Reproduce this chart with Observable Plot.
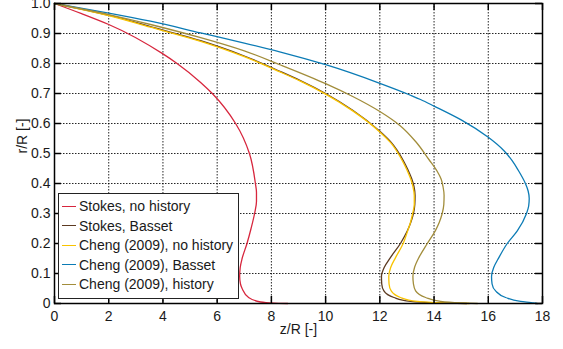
<!DOCTYPE html>
<html><head><meta charset="utf-8">
<script src="https://cdn.jsdelivr.net/npm/d3@7"></script>
<script src="https://cdn.jsdelivr.net/npm/@observablehq/plot@0.6"></script>
<style>
body{margin:0;background:#fff;}
#wrap{position:relative;width:563px;height:349px;overflow:hidden;font-family:"Liberation Sans",Arial,Helvetica,sans-serif;}
#legend{position:absolute;left:58px;top:193px;width:181px;height:106px;border:1px solid #222;background:#fff;box-sizing:border-box;padding-top:2.5px;}
.row{height:19.5px;display:flex;align-items:center;font-size:14px;color:#1a1a1a;white-space:nowrap;}
.sw{width:14px;height:0;border-top:1.4px solid;margin-left:3px;margin-right:3px;}
</style></head>
<body><div id="wrap"><div id="chart"></div><div id="legend"></div></div>
<script>
const seriesNames = ["Stokes, no history","Stokes, Basset","Cheng (2009), no history","Cheng (2009), Basset","Cheng (2009), history"];
const seriesColors = ["#d7263d","#5c3a21","#f8c300","#0b7bb5","#a28d3b"];
const xTicks = [0,2,4,6,8,10,12,14,16,18];
const yTicks = [0,0.1,0.2,0.3,0.4,0.5,0.6,0.7,0.8,0.9,1.0];

// Stokes, no history
const stokesNoHistZ = [0,1,2,4,4.52,5.39,5.82,6.68,7.19,7.41,7.45,7.45,7.38,7.25,7.1,6.92,6.85,6.83,6.86,6.92,7.16,7.6,8.1,8.6];
const stokesNoHistR = [1,0.966,0.930,0.832,0.80,0.737,0.70,0.60,0.50,0.40,0.37,0.34,0.30,0.25,0.20,0.15,0.12,0.09,0.065,0.05,0.02,0.005,0.001,0];
// Stokes, Basset
const stokesBassetZ = [0,2,3.54,5.39,7,8.34,9.07,10,11,12,12.42,12.87,13.05,13.18,13.26,13.30,13.29,13.24,13.14,13.02,12.76,12.39,12.16,12.06,12.07,12.15,12.52,13.13,14.1,15.2];
const stokesBassetR = [1,0.961,0.923,0.876,0.825,0.773,0.743,0.700,0.644,0.574,0.537,0.476,0.443,0.415,0.39,0.36,0.33,0.30,0.27,0.243,0.20,0.153,0.12,0.09,0.065,0.042,0.02,0.007,0.002,0];
// Cheng (2009), no history
const chengNoHistZ = [0,2,3.54,5.39,7,8.34,9.07,10,11,12,12.39,12.83,13.01,13.14,13.22,13.27,13.27,13.21,13.13,13.03,12.86,12.58,12.40,12.33,12.34,12.42,12.76,13.38,14.3,15.3];
const chengNoHistR = [1,0.96,0.921,0.874,0.823,0.771,0.741,0.698,0.642,0.572,0.537,0.476,0.443,0.415,0.39,0.36,0.33,0.30,0.27,0.243,0.20,0.153,0.12,0.09,0.065,0.042,0.02,0.007,0.002,0];
// Cheng (2009), Basset
const chengBassetZ = [0,2,3.54,5.39,7,8.34,10,12,13.5,14,15,16,16.57,16.88,17.1,17.37,17.47,17.51,17.49,17.41,17.07,16.7,16.39,16.2,16.12,16.14,16.27,16.64,17.19,17.68,17.8];
const chengBassetR = [1,0.968,0.941,0.902,0.868,0.838,0.796,0.734,0.68,0.658,0.612,0.554,0.51,0.476,0.445,0.40,0.375,0.35,0.325,0.30,0.242,0.20,0.153,0.12,0.09,0.065,0.042,0.02,0.007,0.002,0];
// Cheng (2009), history
const chengHistZ = [0,2,3.54,5.39,7,8.34,10,11,12,12.76,13.32,13.81,14.12,14.26,14.33,14.37,14.36,14.30,14.19,14.05,13.75,13.44,13.28,13.22,13.24,13.32,13.69,14.24,14.98,15.6];
const chengHistR = [1,0.963,0.930,0.886,0.842,0.795,0.733,0.69,0.64,0.592,0.540,0.480,0.440,0.415,0.39,0.36,0.33,0.30,0.27,0.243,0.20,0.153,0.12,0.09,0.065,0.042,0.02,0.007,0.002,0];

const zs = [stokesNoHistZ, stokesBassetZ, chengNoHistZ, chengBassetZ, chengHistZ];
const rs = [stokesNoHistR, stokesBassetR, chengNoHistR, chengBassetR, chengHistR];
const rows = [];
seriesNames.forEach((s, i) => zs[i].forEach((z, j) => rows.push({series: s, z, r: rs[i][j]})));

const W = 563, H = 349, mL = 54, mR = 21, mT = 3, mB = 46;
const pw = W - mL - mR, ph = H - mT - mB, tl = 7;
const ink = "#1a1a1a";

const chart = Plot.plot({
  width: W, height: H, marginLeft: mL, marginRight: mR, marginTop: mT, marginBottom: mB,
  style: {fontSize: "14px", fontFamily: "'Liberation Sans', Arial, Helvetica, sans-serif", color: ink, background: "#fff"},
  x: {domain: [0, 18]},
  y: {domain: [0, 1]},
  color: {domain: seriesNames, range: seriesColors},
  marks: [
    Plot.gridX(xTicks, {stroke: "#000", strokeOpacity: 0.85, strokeDasharray: "1.5,1.5"}),
    Plot.gridY(yTicks, {stroke: "#000", strokeOpacity: 0.85, strokeDasharray: "1.5,1.5"}),
    Plot.line(rows, {x: "z", y: "r", z: "series", stroke: "series", curve: "monotone-y", strokeWidth: 1.3}),
    Plot.tickY(yTicks, {y: d => d, insetRight: pw - tl, stroke: "#000", strokeWidth: 1.5}),
    Plot.tickY(yTicks, {y: d => d, insetLeft: pw - tl, stroke: "#000", strokeWidth: 1.5}),
    Plot.tickX(xTicks, {x: d => d, insetTop: ph - tl, stroke: "#000", strokeWidth: 1.5}),
    Plot.tickX(xTicks, {x: d => d, insetBottom: ph - tl, stroke: "#000", strokeWidth: 1.5}),
    Plot.frame({stroke: "#000", strokeWidth: 1.5}),
    Plot.axisX(xTicks, {tickSize: 0, tickPadding: 8, label: null, fill: ink}),
    Plot.axisY(yTicks, {tickSize: 0, tickPadding: 4, label: null, fill: ink, tickFormat: d => d === 0 ? "0" : d.toFixed(1)}),
    Plot.text(["z/R [-]"], {frameAnchor: "bottom", dy: 30, fill: ink}),
    Plot.text(["r/R [-]"], {frameAnchor: "left", dx: -32, rotate: -90, fill: ink})
  ]
});
document.getElementById("chart").appendChild(chart);

const leg = document.getElementById("legend");
seriesNames.forEach((s, i) => {
  const row = document.createElement("div");
  row.className = "row";
  const sw = document.createElement("span");
  sw.className = "sw";
  sw.style.borderTopColor = seriesColors[i];
  const t = document.createElement("span");
  t.textContent = s;
  row.appendChild(sw); row.appendChild(t);
  leg.appendChild(row);
});
</script></body></html>
